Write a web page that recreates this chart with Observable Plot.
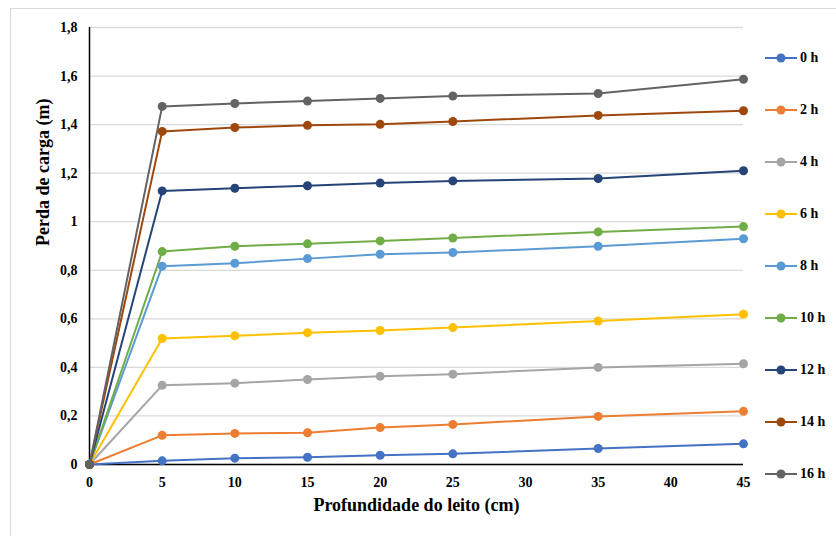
<!DOCTYPE html>
<html>
<head>
<meta charset="utf-8">
<script src="https://cdn.jsdelivr.net/npm/d3@7"></script>
<script src="https://cdn.jsdelivr.net/npm/@observablehq/plot@0.6"></script>
<style>
  html, body { margin: 0; padding: 0; background: #fff; }
  #wrap { position: relative; width: 836px; height: 536px; overflow: hidden; font-family: "Liberation Serif", "Times New Roman", serif; }
  #frame { position: absolute; left: 10px; top: 8px; width: 900px; height: 600px; border-top: 1.5px solid #d9d9d9; border-left: 1.5px solid #d9d9d9; box-sizing: border-box; }
  #chart { position: absolute; left: 0; top: 0; }
  #chart svg text { font-family: "Liberation Serif", "Times New Roman", serif !important; font-weight: bold; fill: #000; }
  #chart svg .tick-lbl text { font-size: 14px !important; }
  #chart svg .ttl text { font-size: 18px !important; }
  #legend { position: absolute; left: 763px; top: 0; }
  .li { position: absolute; left: 0; height: 16px; display: flex; align-items: center; white-space: nowrap; font-weight: bold; font-size: 14px; color: #000; }
  .li svg { margin-right: 3px; }
</style>
</head>
<body>
<div id="wrap">
  <div id="frame"></div>
  <div id="chart"></div>
  <div id="legend"></div>
</div>
<script>
const depths = [0, 5, 10, 15, 20, 25, 35, 45];
const seriesNames = ["0 h", "2 h", "4 h", "6 h", "8 h", "10 h", "12 h", "14 h", "16 h"];
const colors = ["#4472C4", "#ED7D31", "#A5A5A5", "#FFC000", "#5B9BD5", "#70AD47", "#264478", "#9E480E", "#636363"];
const h0  = [0, 0.015, 0.026, 0.030, 0.038, 0.044, 0.066, 0.085];
const h2  = [0, 0.120, 0.128, 0.131, 0.152, 0.165, 0.198, 0.219];
const h4  = [0, 0.326, 0.335, 0.350, 0.363, 0.372, 0.400, 0.415];
const h6  = [0, 0.519, 0.530, 0.543, 0.552, 0.564, 0.591, 0.619];
const h8  = [0, 0.817, 0.829, 0.848, 0.866, 0.873, 0.899, 0.930];
const h10 = [0, 0.877, 0.899, 0.909, 0.921, 0.933, 0.958, 0.980];
const h12 = [0, 1.127, 1.138, 1.148, 1.159, 1.168, 1.178, 1.210];
const h14 = [0, 1.372, 1.388, 1.397, 1.401, 1.413, 1.438, 1.457];
const h16 = [0, 1.475, 1.487, 1.497, 1.508, 1.518, 1.528, 1.587];
const seriesValues = [h0, h2, h4, h6, h8, h10, h12, h14, h16];
const yTicks = [0, 0.2, 0.4, 0.6, 0.8, 1, 1.2, 1.4, 1.6, 1.8];
const xTicks = [0, 5, 10, 15, 20, 25, 30, 35, 40, 45];
const xTitle = "Profundidade do leito (cm)";
const yTitle = "Perda de carga (m)";

const data = [];
seriesNames.forEach((s, i) => depths.forEach((d, j) => data.push({serie: s, x: d, y: seriesValues[i][j]})));

const fmt = d => String(+d.toFixed(1)).replace(".", ",");

const chart = Plot.plot({
  width: 836,
  height: 536,
  marginLeft: 89,
  marginRight: 93,
  marginTop: 27,
  marginBottom: 72,
  style: { background: "transparent", color: "#000" },
  x: { domain: [0, 45], ticks: xTicks, label: null },
  y: { domain: [0, 1.8], ticks: yTicks, label: null },
  color: { domain: seriesNames, range: colors },
  marks: [
    Plot.gridY(yTicks, { stroke: "#d9d9d9", strokeOpacity: 1, strokeWidth: 1.3 }),
    Plot.axisY(yTicks, { tickSize: 0, tickPadding: 12, tickFormat: fmt, label: null, className: "tick-lbl" }),
    Plot.axisX(xTicks, { tickSize: 0, tickPadding: 13, tickFormat: d => String(d), label: null, className: "tick-lbl" }),
    Plot.ruleY([0], { stroke: "#000", strokeWidth: 1.5 }),
    Plot.ruleX([0], { stroke: "#000", strokeWidth: 1.5 }),
    Plot.line(data, { x: "x", y: "y", z: "serie", stroke: "serie", strokeWidth: 2 }),
    Plot.dot(data, { x: "x", y: "y", fill: "serie", r: 4.5, stroke: null }),
    Plot.text([xTitle], { frameAnchor: "bottom", dy: 46, className: "ttl" }),
    Plot.text([yTitle], { frameAnchor: "left", dx: -46, rotate: -90, className: "ttl" })
  ]
});
document.getElementById("chart").appendChild(chart);

const legend = document.getElementById("legend");
seriesNames.forEach((s, i) => {
  const el = document.createElement("div");
  el.className = "li";
  el.style.top = (50 + i * 52) + "px";
  el.innerHTML = `<svg width="34" height="12"><line x1="2" y1="6" x2="34" y2="6" stroke="${colors[i]}" stroke-width="2"/><circle cx="18" cy="6" r="4.5" fill="${colors[i]}"/></svg>${s}`;
  legend.appendChild(el);
});
</script>
</body>
</html>
